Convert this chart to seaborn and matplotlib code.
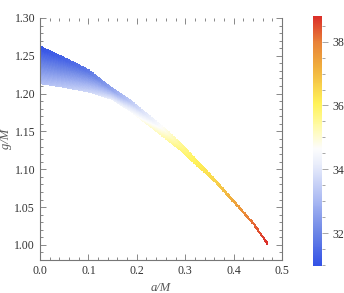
import numpy as np
import matplotlib
matplotlib.use("Agg")
import matplotlib.pyplot as plt
import seaborn as sns
from matplotlib.colors import LinearSegmentedColormap
from matplotlib.ticker import MultipleLocator, FormatStrFormatter

# boundary of the allowed region
a_vals  = [0.000, 0.050, 0.100, 0.150, 0.190, 0.230, 0.260, 0.290, 0.320, 0.360, 0.410, 0.440, 0.470]
g_upper = [1.262, 1.247, 1.231, 1.206, 1.189, 1.168, 1.152, 1.134, 1.114, 1.087, 1.051, 1.029, 1.002]
g_lower = [1.214, 1.209, 1.203, 1.193, 1.176, 1.156, 1.141, 1.126, 1.108, 1.085, 1.050, 1.0285, 1.0015]
# colour value along the two edges
t_upper = [31.0, 31.3, 31.7, 32.6, 33.4, 34.2, 34.8, 35.5, 36.0, 36.5, 37.5, 38.2, 38.8]
t_lower = [33.2, 33.4, 33.7, 34.2, 34.6, 35.1, 35.4, 35.8, 36.1, 36.6, 37.6, 38.3, 38.8]

sns.set_style("ticks")
plt.rcParams['font.family'] = ['Liberation Serif', 'DejaVu Serif']

temp_map = LinearSegmentedColormap.from_list("temp", [
    (0.00, (0.20, 0.32, 0.90)),
    (0.13, (0.42, 0.52, 0.90)),
    (0.26, (0.66, 0.72, 0.95)),
    (0.39, (0.89, 0.91, 0.98)),
    (0.47, (0.99, 0.99, 0.99)),
    (0.56, (1.00, 0.98, 0.66)),
    (0.65, (1.00, 0.95, 0.35)),
    (0.80, (0.94, 0.68, 0.24)),
    (0.90, (0.91, 0.50, 0.22)),
    (1.00, (0.86, 0.18, 0.16)),
])

fig = plt.figure(figsize=(3.44, 2.93), dpi=100)
ax = fig.add_axes([0.1163, 0.1126, 0.7035, 0.826])
cax = fig.add_axes([0.910, 0.092, 0.026, 0.853])

# fine rendering mesh between the two edges
a_fine = np.linspace(a_vals[0], a_vals[-1], 300)
lo = np.interp(a_fine, a_vals, g_lower)
up = np.interp(a_fine, a_vals, g_upper)
tlo = np.interp(a_fine, a_vals, t_lower)
tup = np.interp(a_fine, a_vals, t_upper)
s = np.linspace(0, 1, 31)[:, None]
X = np.broadcast_to(a_fine, (31, a_fine.size))
Y = lo + s * (up - lo)
C = tlo + s * (tup - tlo)
Cc = 0.25 * (C[:-1, :-1] + C[1:, :-1] + C[:-1, 1:] + C[1:, 1:])
mesh = ax.pcolormesh(X, Y, Cc, shading='flat', cmap=temp_map, vmin=30.97, vmax=38.8,
                     edgecolors='face', linewidth=0.15, antialiased=False)

ax.set_xlim(0, 0.5)
ax.set_ylim(0.98, 1.30)
ax.xaxis.set_major_locator(MultipleLocator(0.1))
ax.xaxis.set_minor_locator(MultipleLocator(0.02))
ax.yaxis.set_major_locator(MultipleLocator(0.05))
ax.yaxis.set_minor_locator(MultipleLocator(0.01))
ax.xaxis.set_major_formatter(FormatStrFormatter('%.1f'))
ax.yaxis.set_major_formatter(FormatStrFormatter('%.2f'))
ax.tick_params(which='both', direction='in', top=True, right=True, color='#888888',
               labelsize=8.5, labelcolor='#333333', width=0.7)
ax.tick_params(which='major', length=4)
ax.tick_params(which='minor', length=2)
ax.spines['top'].set_visible(False)
for sp in ['left', 'bottom', 'right']:
    ax.spines[sp].set_color('#777777')
    ax.spines[sp].set_linewidth(0.8)
ax.set_xlabel('a/M', fontstyle='italic', fontsize=9, color='#555555', labelpad=4)
ax.set_ylabel('g/M', fontstyle='italic', fontsize=9, color='#555555', labelpad=2)

cb = fig.colorbar(mesh, cax=cax)
cb.outline.set_visible(False)
cb.set_ticks([32, 34, 36, 38])
cb.ax.yaxis.set_minor_locator(MultipleLocator(0.5))
cb.ax.tick_params(which='both', color='#999999', labelsize=8.5, labelcolor='#333333', width=0.6)
cb.ax.tick_params(which='major', length=4)
cb.ax.tick_params(which='minor', length=2)

fig.savefig("out.png", dpi=100)
